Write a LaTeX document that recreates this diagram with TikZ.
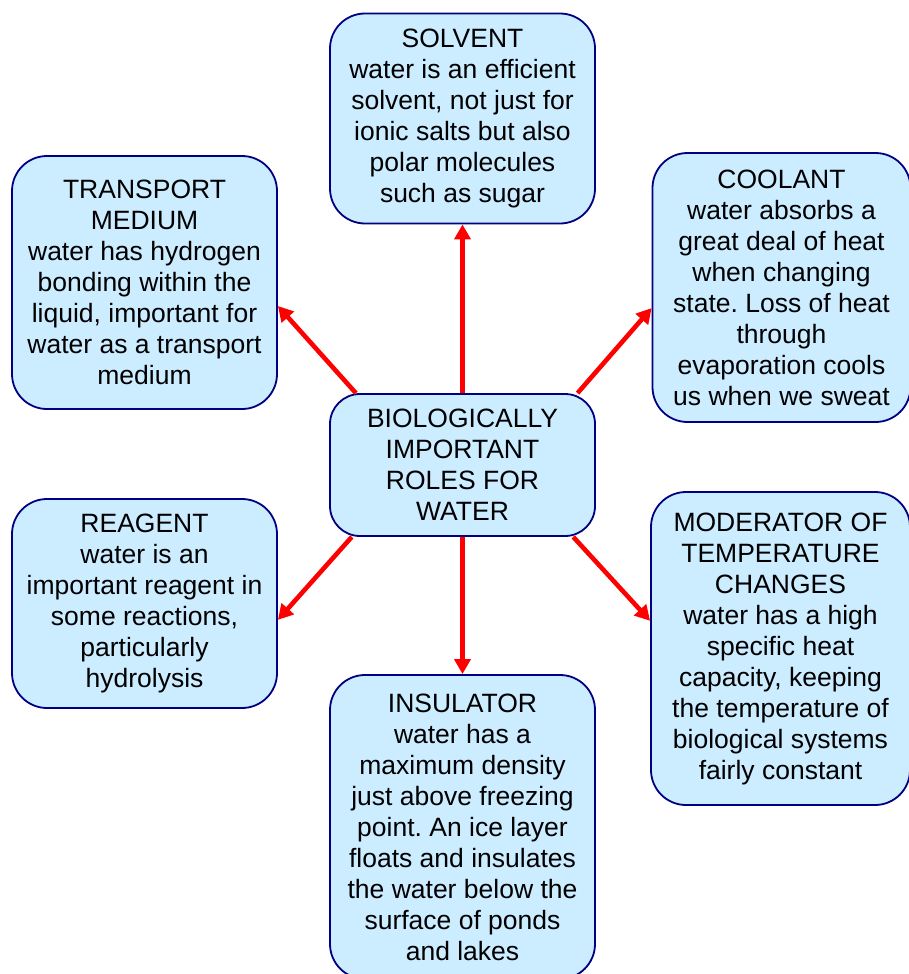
\documentclass[tikz,border=0pt]{standalone}
\usepackage{fontspec}
\setmainfont{Liberation Sans}
\usetikzlibrary{arrows.meta}
\definecolor{boxfill}{HTML}{CCECFF}
\definecolor{boxline}{HTML}{000080}
\definecolor{arrred}{HTML}{FF0000}
\frenchspacing
\tikzset{
  rolebox/.style={draw=boxline, fill=boxfill, line width=1.8pt, rounded corners=35pt,
    align=center, inner sep=0pt, font=\fontsize{26.5}{31}\selectfont},
  rolearrow/.style={draw=arrred, line width=4.6pt, -{Triangle[length=15pt,width=16pt]}}
}
\begin{document}
\begin{tikzpicture}[x=1pt,y=-1pt]
\useasboundingbox (0,0) rectangle (909,974);
\clip (0,0) rectangle (909,974);
\node[rolebox, minimum width=265pt, minimum height=210pt] (solv) at (462.5,118.5)
  {SOLVENT\\water is an efficient\\solvent, not just for\\ionic salts but also\\polar molecules\\such as sugar};
\node[rolebox, minimum width=265pt, minimum height=253pt] (trans) at (144.5,282.5)
  {TRANSPORT\\MEDIUM\\water has hydrogen\\bonding within the\\liquid, important for\\water as a transport\\medium};
\node[rolebox, minimum width=258pt, minimum height=269pt] (cool) at (781.5,287.5)
  {COOLANT\\water absorbs a\\great deal of heat\\when changing\\state. Loss of heat\\through\\evaporation cools\\us when we sweat};
\node[rolebox, rounded corners=30pt, minimum width=265pt, minimum height=142pt] (ctr) at (462.5,465)
  {BIOLOGICALLY\\IMPORTANT\\ROLES FOR\\WATER};
\node[rolebox, minimum width=265pt, minimum height=209pt] (reag) at (144.5,603.5)
  {REAGENT\\water is an\\important reagent in\\some reactions,\\particularly\\hydrolysis};
\node[rolebox, minimum width=259pt, minimum height=313pt] (mod) at (780.5,648.5)
  {MODERATOR OF\\TEMPERATURE\\CHANGES\\water has a high\\specific heat\\capacity, keeping\\the temperature of\\biological systems\\fairly constant};
\node[rolebox, minimum width=265pt, minimum height=304pt] (ins) at (462.5,827)
  {INSULATOR\\water has a\\maximum density\\just above freezing\\point. An ice layer\\floats and insulates\\the water below the\\surface of ponds\\and lakes};
\draw[rolearrow] (ctr.north) -- (solv.south);
\draw[rolearrow] (ctr.south) -- (ins.north);
\draw[rolearrow] (ctr.146) -- (trans.-10.5);
\draw[rolearrow] (ctr.32.7) -- (cool.-171);
\draw[rolearrow] (ctr.213.4) -- (reag.-7.1);
\draw[rolearrow] (ctr.-33.2) -- (mod.168.4);
\end{tikzpicture}
\end{document}
